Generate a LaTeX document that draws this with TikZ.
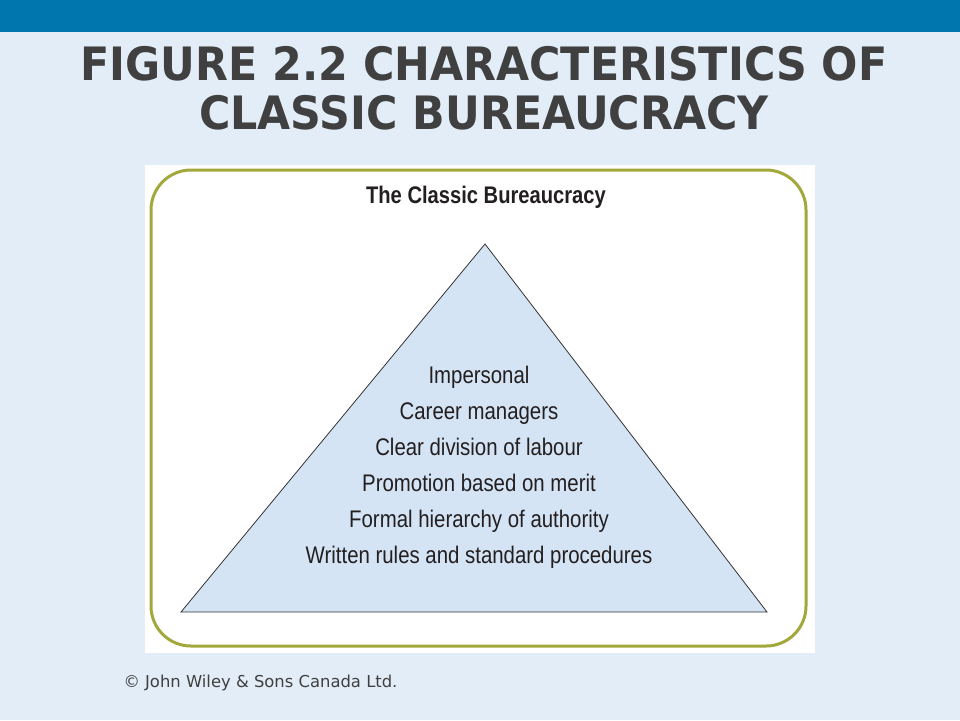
\documentclass[tikz,border=0pt]{standalone}
\usepackage{fontspec}
\setmainfont{Liberation Sans}
\newfontfamily\condfont[FakeStretch=0.85]{Liberation Sans}
\newfontfamily\condbold[FakeStretch=0.84]{Liberation Sans Bold}
\newfontfamily\heavyfont[FakeStretch=0.93]{DejaVu Sans Bold}
\newfontfamily\footfont{DejaVu Sans}
\definecolor{topbar}{HTML}{0076AE}
\definecolor{pagebg}{HTML}{E2EDF8}
\definecolor{titlegray}{HTML}{404040}
\definecolor{olive}{HTML}{A3A83A}
\definecolor{trifill}{HTML}{D4E4F4}
\definecolor{inktext}{HTML}{231F20}

\begin{document}
\begin{tikzpicture}[x=1pt, y=-1pt,
titlenode/.style={font=\heavyfont\fontsize{46}{49}\selectfont, text=titlegray, align=center},
boxtitle/.style={font=\condbold\fontsize{24}{26}\selectfont, text=inktext},
itemnode/.style={font=\condfont\fontsize{24}{36}\selectfont, text=inktext, align=center},
footnode/.style={font=\footfont\fontsize{16.4}{18}\selectfont, text=titlegray, anchor=west},
]
%Background
\fill[pagebg] (0,0) rectangle (960,720);
\useasboundingbox (0,0) rectangle (960,720);
\fill[topbar] (0,0) rectangle (960,32);
%Nodes
\node[titlenode] at (484,88) (title) {FIGURE 2.2 CHARACTERISTICS OF\\CLASSIC BUREAUCRACY};
\fill[white] (145,165) rectangle (815,653);
\draw[olive, line width=3pt, rounded corners=40pt] (151,170) rectangle (806,646);
\node[boxtitle] at (486,197) (boxhead) {The Classic Bureaucracy};
\coordinate (apex) at (485,244);
\coordinate (baseL) at (181,612);
\coordinate (baseR) at (767,612);
\draw[fill=trifill, draw=black!80, line width=0.8pt] (apex) -- (baseL) -- (baseR) -- cycle;
\node[itemnode] at (479,467) (items) {Impersonal\\Career managers\\Clear division of labour\\Promotion based on merit\\Formal hierarchy of authority\\Written rules and standard procedures};
\node[footnode] at (120,683) (copyright) {© John Wiley \& Sons Canada Ltd.};
\end{tikzpicture}
\end{document}
